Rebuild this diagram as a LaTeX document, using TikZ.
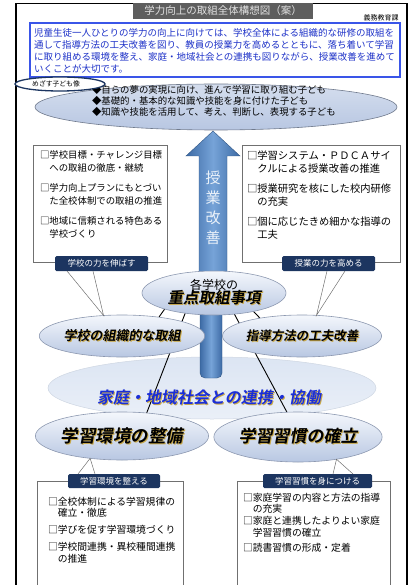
\documentclass[tikz,border=0pt]{standalone}
\usepackage{fontspec}
\setmainfont{Noto Sans CJK JP}
\newfontfamily\waFont{Noto Sans CJK JP Bold}[FakeSlant=0.18]
\usetikzlibrary{shapes.geometric,calc}
\definecolor{titlebg}{HTML}{5E5E5E}
\definecolor{titletext}{HTML}{E2E2E2}
\definecolor{bluetext}{HTML}{1E32C8}
\definecolor{blueborder}{HTML}{3A55E8}
\definecolor{ellline}{HTML}{8C98B0}
\definecolor{elltop}{HTML}{F4F7FC}
\definecolor{ellbot}{HTML}{B8C7E2}
\definecolor{pale}{HTML}{DCE5F3}
\definecolor{arrowdark}{HTML}{3D6BA5}
\definecolor{arrowlight}{HTML}{76A3D8}
\definecolor{navy}{HTML}{1C3560}
\definecolor{wablue}{HTML}{1A2ED8}
\definecolor{wagold}{HTML}{C8A848}
\definecolor{boxline}{HTML}{707070}
\newcommand{\shadowed}[3]{\leavevmode\rlap{\kern1pt\raisebox{-1pt}{\textcolor{#1}{#3}}}\textcolor{#2}{#3}}
\newcommand{\ind}{\makebox[1em]{}}
\pgfdeclarelayer{bg}
\pgfdeclarelayer{mid}
\pgfsetlayers{bg,mid,main}
\tikzset{
  ell/.style={ellipse, draw=ellline, line width=0.6pt, top color=elltop, bottom color=ellbot, inner sep=0, outer sep=0},
  lbl/.style={fill=navy, text=white, rounded corners=1.5pt, font=\fontsize{8.5}{10}\selectfont, inner sep=0, outer sep=0, minimum height=15pt},
  boxnode/.style={draw=boxline, line width=0.6pt, fill=white, inner sep=0, outer sep=0, anchor=north west},
  txt/.style={inner sep=0, outer sep=0, align=left, anchor=north west},
  conn/.style={black, line width=0.9pt},
  callout/.style={boxline, line width=0.5pt},
  colshade/.style={left color=arrowdark, right color=arrowdark, middle color=arrowlight, draw=arrowdark!80!black, line width=0.4pt}
}
\begin{document}
\begin{tikzpicture}[x=1pt,y=-1pt]
\useasboundingbox (0,0) rectangle (411,585);
\clip (0,0) rectangle (411,585);
\begin{pgfonlayer}{bg}
% frame
\draw[line width=1.8pt] (16,600) -- (16,3.5) -- (407,3.5) -- (407,600);
% title
\node[fill=titlebg, text=titletext, minimum width=180, minimum height=16, inner sep=0, font=\fontsize{10.5}{12}\selectfont] (title) at (223,11) {学力向上の取組全体構想図（案）};
\node[inner sep=0, font=\fontsize{7}{8}\selectfont] (dept) at (381,18) {義務教育課};
% intro box
\node[boxnode, draw=blueborder, line width=1.4pt, minimum width=370, minimum height=54] (intro) at (30,23) {};
\node[txt, text=bluetext, font=\fontsize{9.5}{12}\selectfont] (introT) at (34,28.2) {児童生徒一人ひとりの学力の向上に向けては、学校全体による組織的な研修の取組を\\通して指導方法の工夫改善を図り、教員の授業力を高めるとともに、落ち着いて学習\\に取り組める環境を整え、家庭・地域社会との連携も図りながら、授業改善を進めて\\いくことが大切です。};
% goal ellipse
\node[ell, draw=ellline!80!black, minimum width=362, minimum height=46, top color=ellbot!60!white, bottom color=ellbot] (goal) at (216,107) {};
\node[txt, font=\fontsize{9.4}{11}\selectfont] (goalT) at (92,85.3) {◆自らの夢の実現に向け、進んで学習に取り組む子ども\\◆基礎的・基本的な知識や技能を身に付けた子ども\\◆知識や技能を活用して、考え、判断し、表現する子ども};
\node[ellipse, draw=navy, line width=1.3pt, fill=white, minimum width=90, minimum height=14, inner sep=0, font=\fontsize{6.8}{8}\selectfont] (goalTag) at (60,84) {\hspace*{-8pt}めざす子ども像};
% arrow
\path[colshade] (213,131) -- (240,156) -- (227,156) -- (227,292) -- (199,292) -- (199,156) -- (186,156) -- cycle;
\node[inner sep=0, align=center, text=white!85!arrowlight, font=\fontsize{15}{20}\selectfont] (arrowT) at (213,208) {授\\業\\改\\善};
% upper boxes
\node[boxnode, minimum width=134, minimum height=117] (boxL) at (33,145) {};
\node[txt, font=\fontsize{9.4}{13}\selectfont] (boxLT) at (40,150.3) {□学校目標・チャレンジ目標\\\ind への取組の徹底・継続\\[7pt]□学力向上プランにもとづい\\\ind た全校体制での取組の推進\\[7pt]□地域に信頼される特色ある\\\ind 学校づくり};
\node[boxnode, minimum width=158, minimum height=117] (boxR) at (242,145) {};
\node[txt, font=\fontsize{10.3}{12.5}\selectfont] (boxRT) at (247,150.8) {□学習システム・ＰＤＣＡサイ\\\ind クルによる授業改善の推進\\[8pt]□授業研究を核にした校内研修\\\ind の充実\\[8pt]□個に応じたきめ細かな指導の\\\ind 工夫};
% community ellipse
\node[ellipse, draw=pale!85!gray, line width=0.5pt, top color=pale, bottom color=pale!60!white, minimum width=328, minimum height=62, inner sep=0] (comm) at (212,388) {};
% pillar
\path[colshade, rounded corners=5pt] (200,300) -- (200,378) -- (222,378) -- (222,300);
\end{pgfonlayer}
% ellipses
\node[ell, minimum width=150, minimum height=42] (orgL) at (122,336) {\waFont\fontsize{13}{14}\selectfont\shadowed{wagold}{black}{学校の組織的な取組}};
\node[ell, minimum width=152, minimum height=42] (metR) at (302,336) {\waFont\fontsize{12.5}{14}\selectfont\shadowed{wagold}{black}{指導方法の工夫改善}};
\node[ell, minimum width=144, minimum height=44, align=center] (ctr) at (214,293) {\fontsize{12}{16}\selectfont 各学校の\\[-1pt]\waFont\fontsize{15.5}{17}\selectfont\shadowed{wagold}{black}{重点取組事項}};
\node[ell, minimum width=150, minimum height=48] (envL) at (122,436) {\waFont\fontsize{17.5}{19}\selectfont\shadowed{wagold}{black}{学習環境の整備}};
\node[ell, minimum width=162, minimum height=50] (habR) at (298,437) {\waFont\fontsize{17}{19}\selectfont\shadowed{wagold}{black}{学習習慣の確立}};
\node[inner sep=0] (commT) at (209,398) {\waFont\fontsize{16}{18}\selectfont\shadowed{wagold}{wablue}{家庭・地域社会との連携・協働}};
% connectors behind ellipses
\begin{pgfonlayer}{mid}
\draw[conn] (ctr.215) -- (envL.43);
\draw[conn] (ctr.314) -- (habR.114);
\draw[conn] (ctr.198) -- (orgL.27);
\draw[conn] (ctr.335) -- (metR.157);
\end{pgfonlayer}
% labels
\node[lbl, minimum width=93] (lblL) at (101.5,263.5) {学校の力を伸ばす};
\node[lbl, minimum width=93] (lblR) at (328.5,263.5) {授業の力を高める};
\draw[callout] ([xshift=12pt]lblL.south west) -- (orgL.132) -- ([xshift=38pt]lblL.south west);
\draw[callout] ([xshift=45pt]lblR.south west) -- (metR.55) -- ([xshift=63pt]lblR.south west);
% lower boxes
\node[boxnode, minimum width=146, minimum height=130] (boxBL) at (37,481) {};
\node[txt, font=\fontsize{9.8}{11.5}\selectfont] (boxBLT) at (48,497.1) {□全校体制による学習規律の\\\ind 確立・徹底\\[5.5pt]□学びを促す学習環境づくり\\[5.5pt]□学校間連携・異校種間連携\\\ind の推進};
\node[boxnode, minimum width=153, minimum height=130] (boxBR) at (237,481) {};
\node[txt, font=\fontsize{9.8}{11.5}\selectfont] (boxBRT) at (243,493.1) {□家庭学習の内容と方法の指導\\\ind の充実\\[0.5pt]□家庭と連携したよりよい家庭\\\ind 学習習慣の確立\\[3.5pt]□読書習慣の形成・定着};
\node[lbl, minimum width=92, minimum height=14] (lblBL) at (114,481) {学習環境を整える};
\node[lbl, minimum width=109, minimum height=14] (lblBR) at (317.5,481) {学習習慣を身につける};
\draw[callout] ([xshift=10pt]lblBL.north west) -- (envL.215) -- ([xshift=27pt]lblBL.north west);
\draw[callout] ([xshift=70pt]lblBR.north west) -- (habR.330) -- ([xshift=90pt]lblBR.north west);
\end{tikzpicture}
\end{document}
